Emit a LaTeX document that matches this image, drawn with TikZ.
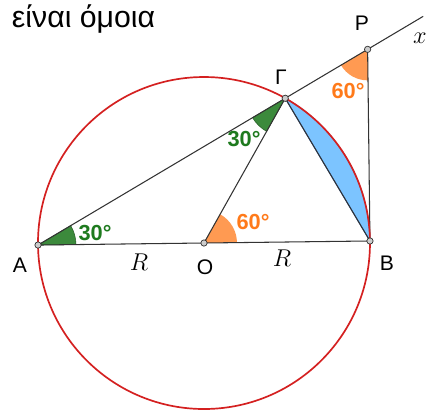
\documentclass[tikz,border=0pt]{standalone}
\usepackage{fontspec}
\setmainfont{Liberation Sans}
\usepackage{xcolor}
\usepackage{tikz}
\definecolor{circlered}{HTML}{D42020}
\definecolor{angleorange}{HTML}{FF9A52}
\definecolor{labelorange}{HTML}{FF7A1A}
\definecolor{anglegreen}{HTML}{3C8A3C}
\definecolor{labelgreen}{HTML}{1E7A1E}
\definecolor{segblue}{HTML}{7CC4FF}
\definecolor{segdark}{HTML}{2F6FD0}

\begin{document}
\begin{tikzpicture}[x=0.025cm, y=0.025cm,
    seg/.style={draw=black!80, line width=0.75pt},
    ptdot/.style={circle, draw=black!80, fill=gray!40, inner sep=0pt, minimum size=4.5pt, line width=0.5pt},
    ptlabel/.style={font=\fontsize{15}{15}\selectfont},
    deglabel/.style={font=\fontsize{15.5}{15.5}\selectfont\bfseries},
    mathlabel/.style={font=\fontsize{19}{19}\selectfont}]
    \useasboundingbox (0,0) rectangle (426,409);

    \begin{scope}[rotate around={0.7:(204,166)}]
        \coordinate (O) at (204,166);
        \coordinate (A) at (38,166);
        \coordinate (B) at (370,166);
        \coordinate (G) at (287,309.76);
        \coordinate (P) at (370,357.66);
        \coordinate (xend) at (426,390);

        \fill[segblue, draw=segdark, line width=0.7pt] (G) arc[start angle=60, end angle=0, radius=166] -- cycle;

        \fill[anglegreen, draw=anglegreen!70!black, line width=0.4pt] (A) -- ++(0:38) arc[start angle=0, end angle=30, radius=38] -- cycle;
        \fill[anglegreen, draw=anglegreen!70!black, line width=0.4pt] (G) -- ++(210:38) arc[start angle=210, end angle=240, radius=38] -- cycle;
        \fill[angleorange] (O) -- ++(0:33) arc[start angle=0, end angle=60, radius=33] -- cycle;
        \fill[angleorange] (P) -- ++(210:31) arc[start angle=210, end angle=270, radius=31] -- cycle;

        \draw[seg] (A) -- (xend);
        \draw[seg] (A) -- (B);
        \draw[seg] (O) -- (G);
        \draw[seg] (G) -- (B);
        \draw[seg] (B) -- (P);

        \draw[circlered, line width=1.2pt] (O) circle[radius=166];

        \node[ptdot] (dA) at (A) {};
        \node[ptdot] (dO) at (O) {};
        \node[ptdot] (dB) at (B) {};
        \node[ptdot] (dG) at (G) {};
        \node[ptdot] (dP) at (P) {};
    \end{scope}

    \node[anchor=base west, font=\fontsize{21.5}{21.5}\selectfont] (title) at (7,381) {είναι όμοια};

    \node[ptlabel] (lA) at (20,144) {A};
    \node[ptlabel] (lO) at (205,142) {O};
    \node[ptlabel] (lB) at (387,146) {B};
    \node[ptlabel] (lG) at (281,332) {Γ};
    \node[ptlabel] (lP) at (362,386) {P};
    \node[mathlabel] (lx) at (420,371) {$x$};
    \node[mathlabel] (lR1) at (139,147) {$R$};
    \node[mathlabel] (lR2) at (282,151) {$R$};

    \node[deglabel, labelgreen] (aA) at (95,176) {30°};
    \node[deglabel, labelgreen] (aG) at (244,270) {30°};
    \node[deglabel, labelorange] (aO) at (253,187) {60°};
    \node[deglabel, labelorange] (aP) at (348,318) {60°};
\end{tikzpicture}
\end{document}
